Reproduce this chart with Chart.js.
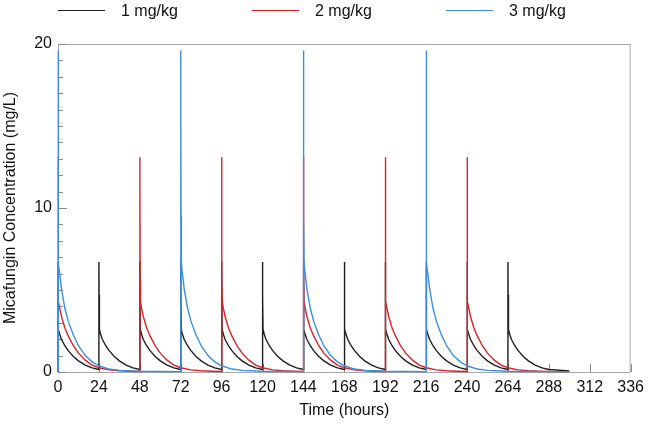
<!DOCTYPE html>
<html>
<head>
<meta charset="utf-8">
<script src="https://cdn.jsdelivr.net/npm/chart.js@4.4.1/dist/chart.umd.min.js"></script>
<style>
  html, body { margin: 0; padding: 0; background: #fff; }
  #wrap { width: 650px; height: 428px; }
</style>
</head>
<body>
<div id="wrap"><canvas id="pkChart"></canvas></div>
<script>
// dose groups
const seriesLabels = ['1 mg/kg', '2 mg/kg', '3 mg/kg'];
const seriesColors = ['#1e1e1e', '#dc2127', '#3a8fe3'];

// dosing times (hours)
const doseTimes1 = [0, 24, 48, 72, 96, 120, 144, 168, 192, 216, 240, 264];
const doseTimes2 = [0, 48, 96, 144, 192, 240];
const doseTimes3 = [0, 72, 144, 216];

// concentration after each dose (mg/L)
const hoursAfterDose1 = [0, 0.1, 0.3, 1, 2, 4, 6, 9, 12, 16, 20, 24];
const conc1 = [6.7, 4.7, 2.6, 2.3, 2.0, 1.6, 1.3, 0.95, 0.68, 0.42, 0.25, 0.15];
const hoursAfterDose2 = [0, 0.1, 0.2, 0.4, 1, 2, 4, 6, 9, 12, 16, 20, 24, 30, 36, 42, 48];
const conc2 = [13.1, 11.0, 5.6, 4.3, 3.9, 3.4, 2.7, 2.2, 1.6, 1.15, 0.72, 0.42, 0.26, 0.13, 0.08, 0.05, 0.03];
const hoursAfterDose3 = [0, 0.1, 0.2, 0.4, 1, 2, 4, 6, 9, 12, 16, 20, 24, 30, 36, 48, 60, 72];
const conc3 = [19.6, 15.5, 9.5, 6.6, 6.0, 5.1, 3.9, 3.1, 2.25, 1.6, 1.0, 0.62, 0.38, 0.18, 0.1, 0.05, 0.03, 0.02];

// where the last curve stops and its value there
const endTime = 300;
const endConc = [0.07, 0.02, 0.01];

// axis ticks
const xTickStep = 24;
const yTickStep = 10;

function buildSeries(doses, hrs, conc, lastConc) {
  const pts = [{ x: 0, y: 0 }];
  doses.forEach(d => {
    hrs.forEach((h, i) => pts.push({ x: d + h, y: conc[i] }));
  });
  pts.push({ x: endTime, y: lastConc });
  return pts;
}

const data1 = buildSeries(doseTimes1, hoursAfterDose1, conc1, endConc[0]);
const data2 = buildSeries(doseTimes2, hoursAfterDose2, conc2, endConc[1]);
const data3 = buildSeries(doseTimes3, hoursAfterDose3, conc3, endConc[2]);

Chart.defaults.font.family = "'Liberation Sans', Arial, sans-serif";
Chart.defaults.color = '#111';

// gray box + inward tick marks
const framePlugin = {
  id: 'frame',
  beforeDatasetsDraw(chart) {
    const { ctx, chartArea: a, scales: { x, y } } = chart;
    ctx.save();
    ctx.strokeStyle = '#a8a8a8';
    ctx.lineWidth = 1;
    ctx.strokeRect(a.left + 0.5, a.top + 0.5, a.right - a.left - 1, a.bottom - a.top);
    ctx.strokeStyle = '#8a8a8a';
    ctx.beginPath();
    for (let v = 0; v <= 20; v++) {
      const py = Math.round(y.getPixelForValue(v)) + 0.5;
      const len = v % 10 === 0 ? 9 : 5;
      ctx.moveTo(a.left, py);
      ctx.lineTo(a.left + len, py);
    }
    for (let t = 0; t <= 336; t += xTickStep) {
      const px = Math.round(x.getPixelForValue(t)) + 0.5;
      ctx.moveTo(px, a.bottom);
      ctx.lineTo(px, a.bottom - 8);
    }
    ctx.stroke();
    ctx.restore();
  }
};

// legend row across the top
const legendPlugin = {
  id: 'topLegend',
  afterDraw(chart) {
    const { ctx } = chart;
    const starts = [58, 252, 446];
    ctx.save();
    ctx.font = "16px 'Liberation Sans', Arial, sans-serif";
    ctx.textBaseline = 'middle';
    chart.data.datasets.forEach((ds, i) => {
      const x0 = starts[i];
      ctx.strokeStyle = ds.borderColor;
      ctx.lineWidth = 1.2;
      ctx.beginPath();
      ctx.moveTo(x0, 10.5);
      ctx.lineTo(x0 + 47, 10.5);
      ctx.stroke();
      ctx.fillStyle = '#111';
      ctx.fillText(ds.label, x0 + 63, 12);
    });
    ctx.restore();
  }
};

const ctx = document.getElementById('pkChart').getContext('2d');
const pkChart = new Chart(ctx, {
  type: 'line',
  data: {
    datasets: [
      { label: seriesLabels[0], data: data1, borderColor: seriesColors[0], order: 3, clip: false },
      { label: seriesLabels[1], data: data2, borderColor: seriesColors[1], order: 2, clip: false },
      { label: seriesLabels[2], data: data3, borderColor: seriesColors[2], order: 1, clip: false }
    ]
  },
  options: {
    responsive: true,
    maintainAspectRatio: false,
    animation: false,
    elements: {
      point: { radius: 0 },
      line: { borderWidth: 1.4, tension: 0 }
    },
    layout: { padding: { top: 44, right: 14, left: 0, bottom: 0 } },
    plugins: {
      legend: { display: false },
      tooltip: { enabled: false }
    },
    scales: {
      x: {
        type: 'linear',
        min: 0,
        max: 336,
        grid: { display: false, drawTicks: false },
        border: { display: false },
        ticks: { stepSize: xTickStep, padding: 6, font: { size: 16 }, maxRotation: 0, autoSkip: false },
        title: { display: true, text: 'Time (hours)', font: { size: 16 }, padding: { top: 0, bottom: 8 } },
        afterFit(scale) { scale.height = 56; }
      },
      y: {
        min: 0,
        max: 20,
        grid: { display: false, drawTicks: false },
        border: { display: false },
        ticks: { stepSize: yTickStep, padding: 6, font: { size: 16 } },
        title: { display: true, text: 'Micafungin Concentration (mg/L)', font: { size: 16 }, padding: { top: 1, bottom: 0 } },
        afterFit(scale) { scale.width = 58; }
      }
    }
  },
  plugins: [framePlugin, legendPlugin]
});
</script>
</body>
</html>
